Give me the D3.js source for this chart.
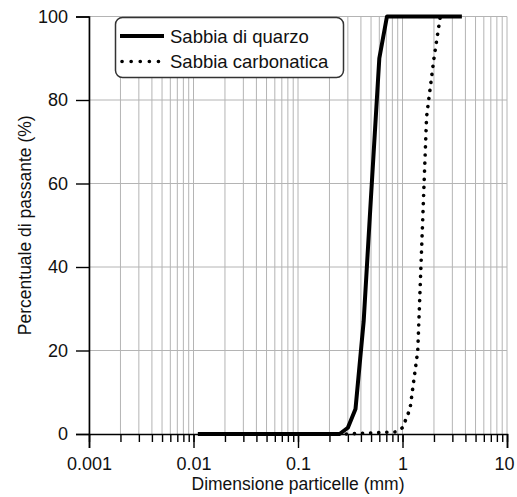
<!DOCTYPE html>
<html>
<head>
<meta charset="utf-8">
<script src="https://cdn.jsdelivr.net/npm/d3@7"></script>
<style>
  html, body { margin: 0; padding: 0; background: #fff; overflow: hidden; }
  svg { display: block; }
  text { font-family: "Liberation Sans", Arial, sans-serif; fill: #111; }
</style>
</head>
<body>
<div id="chart"></div>
<script>
// particle size (mm) and percent passing
const quartzSize = [0.011, 0.25, 0.3, 0.355, 0.425, 0.5, 0.6, 0.71, 3.7];
const quartzPass = [0, 0, 1.5, 6, 27, 57, 90, 100, 100];
const carbSize = [0.29, 0.85, 1.0, 1.18, 1.4, 1.7, 2.0, 2.3];
const carbPass = [0, 0.5, 1.5, 6, 20, 76, 90, 100];
const seriesNames = ["Sabbia di quarzo", "Sabbia carbonatica"];
const xTicks = [0.001, 0.01, 0.1, 1, 10];
const yTicks = [0, 20, 40, 60, 80, 100];

const width = 517;
const height = 497;
const margin = {top : 16.5 , right : 10 , bottom : 63 , left : 89};
const innerWidth = width - margin.left - margin.right;
const innerHeight = height - margin.top - margin.bottom;

const xScale = d3.scaleLog()
                    .domain([0.001 , 10])
                    .range([0 , innerWidth]);
const yScale = d3.scaleLinear()
                    .domain([0 , 100])
                    .range([innerHeight , 0]);

// every 1..9 step of each decade, for grid and minor ticks
const minor = [];
for (let e = -3; e < 1; e++) {
    for (let m = 1; m <= 9; m++) minor.push(m * Math.pow(10, e));
}
minor.push(10);

const svg = d3.select("#chart")
                .append("svg")
                    .attr("width" , width)
                    .attr("height" , height);

const group = svg.append("g")
                    .attr("transform" , `translate(${margin.left} , ${margin.top})`);

// grid
group.append("g")
    .selectAll("line")
    .data(minor)
    .enter()
        .append("line")
            .attr("x1" , d=>xScale(d))
            .attr("x2" , d=>xScale(d))
            .attr("y1" , 0)
            .attr("y2" , innerHeight)
            .attr("stroke" , "#b4b4b4")
            .attr("stroke-width" , 1);

group.append("g")
    .selectAll("line")
    .data(yTicks.filter(d=>d > 0))
    .enter()
        .append("line")
            .attr("x1" , 0)
            .attr("x2" , innerWidth)
            .attr("y1" , d=>yScale(d))
            .attr("y2" , d=>yScale(d))
            .attr("stroke" , "#b4b4b4")
            .attr("stroke-width" , 1);

// axes
const xMinorAxis = group.append("g")
                    .attr("transform" , `translate(0 , ${innerHeight})`)
                    .call(d3.axisBottom(xScale).tickValues(minor).tickSize(8).tickFormat(""));

const xAxis = group.append("g")
                    .attr("transform" , `translate(0 , ${innerHeight})`)
                    .call(d3.axisBottom(xScale).tickValues(xTicks).tickSize(14).tickPadding(9).tickFormat(d3.format("~g")));

const yAxis = group.append("g")
                    .call(d3.axisLeft(yScale).tickValues(yTicks).tickSize(13).tickPadding(8));

[xMinorAxis, xAxis, yAxis].forEach(a=>{
    a.selectAll("path").attr("stroke" , "#000").attr("stroke-width" , 1.6);
    a.selectAll(".tick line").attr("stroke" , "#000").attr("stroke-width" , 1.4);
    a.selectAll("text").attr("font-size" , 18).attr("font-family" , "Liberation Sans, Arial, sans-serif").attr("fill" , "#111");
});
xMinorAxis.select("path").remove();
xMinorAxis.selectAll("text").remove();
// keep the last label inside the window
xAxis.selectAll(".tick text").filter(d=>d === 10).attr("dx" , -3);

// curves
const line = d3.line()
                .x(d=>xScale(d[0]))
                .y(d=>yScale(d[1]));

group.append("path")
    .datum(quartzSize.map((s, i)=>[s, quartzPass[i]]))
    .attr("d" , line)
    .attr("fill" , "none")
    .attr("stroke" , "#000")
    .attr("stroke-width" , 4)
    .attr("stroke-linejoin" , "round");

group.append("path")
    .datum(carbSize.map((s, i)=>[s, carbPass[i]]))
    .attr("d" , line)
    .attr("fill" , "none")
    .attr("stroke" , "#000")
    .attr("stroke-width" , 3.6)
    .attr("stroke-linecap" , "round")
    .attr("stroke-dasharray" , "0.1 8");

// axis titles
svg.append("text")
    .text("Dimensione particelle (mm)")
    .attr("x" , margin.left + innerWidth / 2)
    .attr("y" , 490)
    .attr("text-anchor" , "middle")
    .attr("font-size" , 17.5);

svg.append("text")
    .text("Percentuale di passante (%)")
    .attr("transform" , "rotate(-90)")
    .attr("x" , -(margin.top + innerHeight / 2))
    .attr("y" , 31)
    .attr("text-anchor" , "middle")
    .attr("font-size" , 17.5);

// legend
const legend = svg.append("g");
legend.append("rect")
    .attr("x" , 115.5)
    .attr("y" , 17.5)
    .attr("width" , 228)
    .attr("height" , 60)
    .attr("rx" , 7)
    .attr("fill" , "#fff")
    .attr("stroke" , "#333")
    .attr("stroke-width" , 1.5);

const legendRows = legend.selectAll("g.row")
                    .data(seriesNames)
                    .enter()
                        .append("g")
                            .attr("class" , "row")
                            .attr("transform" , (d, i)=>`translate(0 , ${36 + i * 25.5})`);

legendRows.append("line")
    .attr("x1" , (d, i)=>i ? 122 : 120)
    .attr("x2" , 164)
    .attr("stroke" , "#000")
    .attr("stroke-width" , (d, i)=>i ? 3.6 : 4)
    .attr("stroke-linecap" , (d, i)=>i ? "round" : "butt")
    .attr("stroke-dasharray" , (d, i)=>i ? "0.1 9" : null);

legendRows.append("text")
    .text(d=>d)
    .attr("x" , 170)
    .attr("y" , 6.5)
    .attr("font-size" , 18.5);
</script>
</body>
</html>
